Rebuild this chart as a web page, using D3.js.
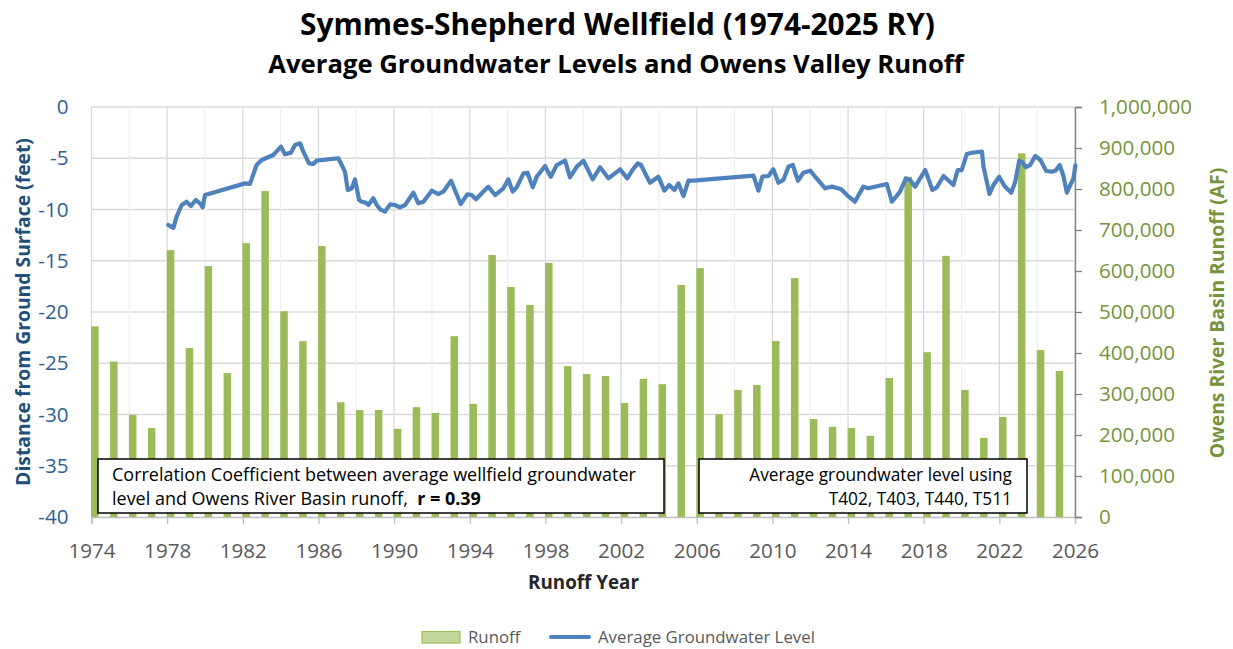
<!DOCTYPE html>
<html><head><meta charset="utf-8">
<script src="https://cdn.jsdelivr.net/npm/d3@7"></script>
<style>body{margin:0;background:#fff;} svg{display:block;font-family:"Open Sans",sans-serif;}</style>
</head><body><svg id="c" width="1233" height="649"></svg>
<script>
// ---------------- DATA ----------------
const runoffYears = [1974,1975,1976,1977,1978,1979,1980,1981,1982,1983,1984,1985,1986,1987,1988,1989,1990,1991,1992,1993,1994,1995,1996,1997,1998,1999,2000,2001,2002,2003,2004,2005,2006,2007,2008,2009,2010,2011,2012,2013,2014,2015,2016,2017,2018,2019,2020,2021,2022,2023,2024,2025];
const runoffValues = [465000,379000,249000,217000,651000,412000,612000,351000,668000,795000,502000,429000,661000,280000,261000,261000,215000,268000,254000,441000,276000,639000,561000,517000,620000,368000,349000,344000,278000,337000,324000,566000,607000,251000,310000,322000,429000,583000,239000,220000,217000,198000,339000,830000,402000,637000,310000,193000,244000,887000,407000,356000];

const gwDates = [1978.06,1978.33,1978.5,1978.77,1979.03,1979.26,1979.51,1979.74,1979.88,1980.0,1982.12,1982.38,1982.73,1983.0,1983.61,1984.02,1984.23,1984.55,1984.76,1985.03,1985.2,1985.5,1985.73,1985.9,1987.05,1987.23,1987.4,1987.55,1987.76,1987.93,1988.15,1988.29,1988.5,1988.64,1988.9,1989.08,1989.26,1989.52,1989.79,1990.05,1990.31,1990.58,1991.02,1991.28,1991.55,1991.99,1992.34,1992.6,1993.01,1993.52,1993.87,1994.1,1994.33,1994.63,1994.98,1995.34,1995.78,1996.04,1996.27,1996.48,1996.84,1997.05,1997.33,1997.54,1997.98,1998.28,1998.6,1999.04,1999.3,1999.66,2000.01,2000.5,2000.89,2001.33,2001.95,2002.33,2002.6,2002.88,2003.06,2003.27,2003.53,2003.97,2004.29,2004.54,2004.82,2005.03,2005.3,2005.56,2005.83,2009.0,2009.26,2009.47,2009.79,2010.05,2010.32,2010.58,2010.85,2011.08,2011.35,2011.64,2012.0,2012.26,2012.79,2013.14,2013.64,2013.94,2014.36,2014.81,2015.08,2016.05,2016.32,2016.75,2017.06,2017.28,2017.55,2018.08,2018.46,2018.69,2019.05,2019.57,2019.8,2020.01,2020.28,2020.55,2021.08,2021.16,2021.48,2021.69,2021.99,2022.27,2022.63,2022.84,2023.05,2023.23,2023.41,2023.63,2023.9,2024.17,2024.48,2024.78,2024.98,2025.19,2025.39,2025.57,2025.75,2025.92,2026.02];
const gwLevels = [-11.5,-11.8,-10.7,-9.56,-9.24,-9.66,-9.07,-9.4,-9.79,-8.59,-7.45,-7.5,-5.66,-5.17,-4.68,-3.87,-4.62,-4.45,-3.71,-3.54,-4.36,-5.5,-5.56,-5.24,-5.0,-5.66,-6.31,-8.1,-7.93,-7.06,-9.07,-9.24,-9.33,-9.56,-8.91,-9.56,-9.98,-10.2,-9.5,-9.56,-9.79,-9.56,-8.36,-9.4,-9.24,-8.16,-8.49,-8.26,-7.19,-9.46,-8.52,-8.59,-9.0,-8.42,-7.77,-8.59,-7.93,-7.06,-8.26,-7.84,-6.47,-6.41,-7.84,-6.8,-5.76,-6.8,-5.66,-5.24,-6.86,-5.82,-5.24,-7.06,-5.88,-6.96,-6.08,-6.96,-6.15,-5.5,-5.66,-6.47,-7.39,-6.8,-8.16,-7.61,-8.1,-7.45,-8.69,-7.19,-7.19,-6.7,-8.16,-6.8,-6.73,-6.08,-7.39,-7.12,-5.82,-5.66,-7.19,-6.41,-6.21,-6.8,-7.93,-7.77,-8.03,-8.59,-9.24,-7.77,-7.93,-7.51,-9.24,-8.26,-6.96,-7.12,-7.77,-6.15,-8.1,-7.84,-6.73,-7.61,-6.15,-6.15,-4.59,-4.46,-4.36,-5.82,-8.49,-7.61,-6.8,-7.71,-8.36,-7.29,-5.24,-5.43,-5.88,-5.66,-4.78,-5.17,-6.24,-6.31,-6.2,-5.66,-6.73,-8.36,-7.61,-6.96,-5.7];

const leftTicks = [0,-5,-10,-15,-20,-25,-30,-35,-40];
const rightTicks = [0,100000,200000,300000,400000,500000,600000,700000,800000,900000,1000000];
const xLabelYears = [1974,1978,1982,1986,1990,1994,1998,2002,2006,2010,2014,2018,2022,2026];
const xMinorYears = [1976,1980,1984,1988,1992,1996,2000,2004,2008,2012,2016,2020,2024];

const titleText = "Symmes-Shepherd Wellfield (1974-2025 RY)";
const subtitleText = "Average Groundwater Levels and Owens Valley Runoff";
const leftTitle = "Distance from Ground Surface (feet)";
const rightTitle = "Owens River Basin Runoff (AF)";
const xTitle = "Runoff Year";
const noteLeft = ["Correlation Coefficient between average wellfield groundwater", "level and Owens River Basin runoff,  ", "r = 0.39"];
const noteRight = ["Average groundwater level using", "T402, T403, T440, T511"];
const legendLabels = ["Runoff", "Average Groundwater Level"];

// ---------------- LAYOUT ----------------
const L = 91.5, R = 1075, T = 107, B = 517;
const svg = d3.select("#c");
const x = d3.scaleLinear().domain([1974, 2026]).range([L, R]);
const yL = d3.scaleLinear().domain([-40, 0]).range([B, T]);
const yR = d3.scaleLinear().domain([0, 1000000]).range([B, T]);
const barOffset = 0.18, barW = 7.5;

function fit(sel, target) {
  const w = sel.node().getComputedTextLength();
  const fs = parseFloat(sel.style("font-size"));
  const nf = fs * target / w;
  sel.style("font-size", nf + "px");
  return nf;
}

// gridlines
const grid = svg.append("g");
grid.selectAll("line.h").data(leftTicks.slice(0, -1)).join("line")
  .attr("x1", L).attr("x2", R).attr("y1", d => yL(d)).attr("y2", d => yL(d))
  .attr("stroke", "#d9d9d9").attr("stroke-width", 1.3);
grid.selectAll("line.vm").data(xMinorYears).join("line")
  .attr("x1", d => x(d)).attr("x2", d => x(d)).attr("y1", T).attr("y2", B)
  .attr("stroke", "#efefef").attr("stroke-width", 1.3);
grid.selectAll("line.vM").data(xLabelYears).join("line").attr("class","vM")
  .attr("x1", d => x(d)).attr("x2", d => x(d)).attr("y1", T).attr("y2", B)
  .attr("stroke", "#d9d9d9").attr("stroke-width", 1.3);

// bars
svg.append("g").selectAll("rect").data(runoffYears).join("rect")
  .attr("x", (d) => x(d + barOffset) - barW / 2)
  .attr("width", barW)
  .attr("y", (d, i) => yR(runoffValues[i]))
  .attr("height", (d, i) => B - yR(runoffValues[i]))
  .attr("fill", "#9bbb59");

// x axis
const xAxis = svg.append("g").attr("transform", `translate(0,${B})`)
  .call(d3.axisBottom(x).tickValues(xLabelYears).tickFormat(d3.format("d")).tickSize(7).tickPadding(19));
xAxis.select(".domain").attr("stroke", "#bfbfbf").attr("stroke-width", 1.3);
xAxis.selectAll(".tick line").attr("stroke", "#bfbfbf").attr("stroke-width", 1.3);
xAxis.selectAll("text").attr("fill", "#595959").style("font-size", "20.6px").style("font-family", "Open Sans");

// left axis
const lAxis = svg.append("g").attr("transform", `translate(${L},0)`)
  .call(d3.axisLeft(yL).tickValues(leftTicks).tickFormat(d => d === 0 ? "0" : "-" + Math.abs(d)).tickSize(0).tickPadding(23));
lAxis.select(".domain").remove();
lAxis.selectAll("text").attr("fill", "#2f5f93").style("font-size", "20.6px").style("font-family", "Open Sans");

// right axis
const rAxis = svg.append("g").attr("transform", `translate(${R},0)`)
  .call(d3.axisRight(yR).tickValues(rightTicks).tickFormat(d3.format(",")).tickSize(7).tickPadding(17));
rAxis.select(".domain").attr("stroke", "#7f7f7f").attr("stroke-width", 1.3);
rAxis.selectAll(".tick line").attr("stroke", "#7f7f7f").attr("stroke-width", 1.3);
rAxis.selectAll("text").attr("fill", "#77933c").style("font-size", "20.6px").style("font-family", "Open Sans");

// line
const line = d3.line().x((d, i) => x(gwDates[i])).y(d => yL(d));
svg.append("path").datum(gwLevels).attr("d", line)
  .attr("fill", "none").attr("stroke", "#4f81bd").attr("stroke-width", 4.2)
  .attr("stroke-linejoin", "round").attr("stroke-linecap", "round");

// note boxes
const nb = svg.append("g");
nb.append("rect").attr("x", 98).attr("y", 459).attr("width", 566).attr("height", 54)
  .attr("fill", "#fff").attr("stroke", "#000").attr("stroke-width", 1.5);
nb.append("rect").attr("x", 699).attr("y", 459).attr("width", 328).attr("height", 54)
  .attr("fill", "#fff").attr("stroke", "#000").attr("stroke-width", 1.5);
const n1 = nb.append("text").attr("x", 112).attr("y", 481).attr("fill", "#000").style("font-size", "16px").text(noteLeft[0]);
const nfs = fit(n1, 524);
const n2 = nb.append("text").attr("x", 112).attr("y", 505).attr("fill", "#000").style("font-size", nfs + "px").attr("xml:space","preserve");
n2.append("tspan").text(noteLeft[1]);
n2.append("tspan").style("font-weight", "bold").text(noteLeft[2]);
const n3 = nb.append("text").attr("x", 1012).attr("y", 481).attr("text-anchor", "end").attr("fill", "#000").style("font-size", "16px").text(noteRight[0]);
const nfs2 = fit(n3, 263);
nb.append("text").attr("x", 1012).attr("y", 505).attr("text-anchor", "end").attr("fill", "#000").style("font-size", nfs2 + "px").text(noteRight[1]);

// titles
const t1 = svg.append("text").attr("x", 617.5).attr("y", 35).attr("text-anchor", "middle")
  .style("font-weight", "bold").style("font-size", "26px").attr("fill", "#000").text(titleText);
fit(t1, 635);
const t2 = svg.append("text").attr("x", 616).attr("y", 73).attr("text-anchor", "middle")
  .style("font-weight", "bold").style("font-size", "20px").attr("fill", "#000").text(subtitleText);
fit(t2, 696);

// axis titles
const lt = svg.append("text").attr("transform", `translate(30,${(T + B) / 2}) rotate(-90)`).attr("text-anchor", "middle")
  .style("font-weight", "bold").style("font-size", "20px").attr("fill", "#1f4e79").text(leftTitle);
const afs = fit(lt, 348);
svg.append("text").attr("transform", `translate(1224,${(T + B) / 2 + 1}) rotate(-90)`).attr("text-anchor", "middle")
  .style("font-weight", "bold").style("font-size", afs + "px").attr("fill", "#77933c").text(rightTitle);
const xt = svg.append("text").attr("x", 583.5).attr("y", 589).attr("text-anchor", "middle")
  .style("font-weight", "bold").style("font-size", "20px").attr("fill", "#262626").text(xTitle);
fit(xt, 111);

// legend
const lg = svg.append("g");
lg.append("rect").attr("x", 422).attr("y", 631.5).attr("width", 38).attr("height", 11.5)
  .attr("fill", "#c3d69b").attr("stroke", "#9bbb59").attr("stroke-width", 1.2);
const lt2 = lg.append("text").attr("x", 598).attr("y", 643).attr("fill", "#595959").style("font-size", "18px").text(legendLabels[1]);
const lfs = fit(lt2, 217);
lg.append("text").attr("x", 468).attr("y", 643).attr("fill", "#595959").style("font-size", lfs + "px").text(legendLabels[0]);
lg.append("line").attr("x1", 551).attr("x2", 589).attr("y1", 637).attr("y2", 637)
  .attr("stroke", "#4f81bd").attr("stroke-width", 4).attr("stroke-linecap", "round");
</script>
</body></html>
